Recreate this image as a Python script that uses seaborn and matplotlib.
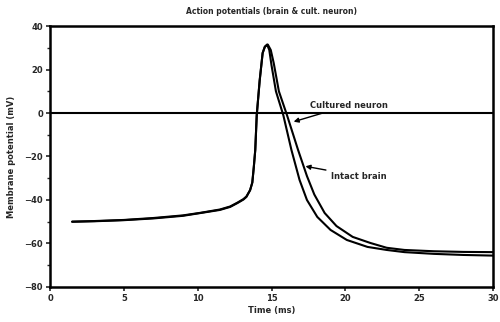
import matplotlib
matplotlib.use("Agg")
import matplotlib.pyplot as plt
import seaborn as sns
import pandas as pd

# ---- data ----
t_cultured = [1.5, 3, 5, 7, 9, 10.2, 11.5, 12.2, 12.7, 13.1, 13.3, 13.55, 13.7, 13.8, 13.9, 14.0, 14.2, 14.4,
              14.55, 14.7, 14.85, 15.0, 15.3, 15.8, 16.35, 16.9, 17.4, 18.1, 19.0, 20.1, 21.5, 22.8,
              24, 26, 28, 30]
v_cultured = [-50, -49.8, -49.3, -48.5, -47.3, -46, -44.6, -43.2, -41.4, -39.8, -38.6, -35.5, -32, -25, -17, -1, 15, 27.6,
              30.5, 31.5, 29, 22, 10, -1, -17, -30.8, -40, -47.8, -53.8, -58.4, -61.6, -63,
              -64, -64.8, -65.3, -65.6]

t_brain = [1.5, 3, 5, 7, 9, 10.2, 11.5, 12.2, 12.7, 13.1, 13.3, 13.55, 13.7, 13.8, 13.9, 14.0, 14.2, 14.4,
           14.55, 14.75, 14.95, 15.15, 15.5, 16.05, 16.8, 17.4, 17.9, 18.6, 19.4, 20.5, 21.7, 22.8,
           24, 26, 28, 30]
v_brain = [-50, -49.7, -49.2, -48.3, -47.1, -45.9, -44.4, -43.0, -41.2, -39.6, -38.4, -35.5, -32, -25, -17, -1, 15, 27.6,
           30.5, 31.5, 29, 23, 10, -1, -17, -29.0, -37.5, -46, -52.0, -57, -59.8, -62.0,
           -63.0, -63.6, -63.9, -64.0]

series_names = ["Cultured neuron", "Intact brain"]
title = "Action potentials (brain & cult. neuron)"
xlabel = "Time (ms)"
ylabel = "Membrane potential (mV)"
xticks = [0, 5, 10, 15, 20, 25, 30]
yticks = [-80, -60, -40, -20, 0, 20, 40]

df = pd.concat([
    pd.DataFrame({"t": t_cultured, "v": v_cultured, "series": series_names[0]}),
    pd.DataFrame({"t": t_brain, "v": v_brain, "series": series_names[1]}),
], ignore_index=True)

sns.set_theme(style="ticks")
plt.rcParams["font.family"] = ["DejaVu Sans"]

fig = plt.figure(figsize=(5.0, 3.22), dpi=100)
ax = fig.add_axes([0.1, 0.109, 0.886, 0.81])

sns.lineplot(data=df, x="t", y="v", units="series", estimator=None, sort=False,
             color="black", linewidth=1.5, legend=False, ax=ax)

ax.axhline(0, color="black", linewidth=1.5, zorder=1)

ax.set_xlim(0, 30)
ax.set_ylim(-80, 40)
ax.set_xticks(xticks)
ax.set_yticks(yticks)
ax.set_yticks([-70, -50, -30, -10, 10, 30], minor=True)
ax.tick_params(axis="both", which="major", labelsize=6, width=1.2, length=3, direction="out", pad=2)
ax.tick_params(axis="y", which="minor", width=1.0, length=2, direction="out")
for lab in ax.get_xticklabels() + ax.get_yticklabels():
    lab.set_fontweight("bold")

for s in ax.spines.values():
    s.set_visible(True)
    s.set_color("black")
    s.set_linewidth(1.8)

ax.set_xlabel(xlabel, fontsize=6, fontweight="bold", labelpad=2)
ax.set_ylabel(ylabel, fontsize=6, fontweight="bold", labelpad=6)
ax.set_title(title, fontsize=5.5, fontweight="bold", pad=9)

ax.annotate(series_names[0], xy=(16.5, -4), xytext=(17.6, 1.5), fontsize=6, fontweight="bold",
            va="bottom", ha="left",
            arrowprops=dict(arrowstyle="-|>", color="black", lw=1.0, mutation_scale=7,
                            shrinkA=0, shrinkB=0))
ax.annotate(series_names[1], xy=(17.3, -24.5), xytext=(19.0, -29), fontsize=6, fontweight="bold",
            va="center", ha="left",
            arrowprops=dict(arrowstyle="-|>", color="black", lw=1.0, mutation_scale=7,
                            shrinkA=1, shrinkB=0))

fig.savefig("out.png", dpi=100)
